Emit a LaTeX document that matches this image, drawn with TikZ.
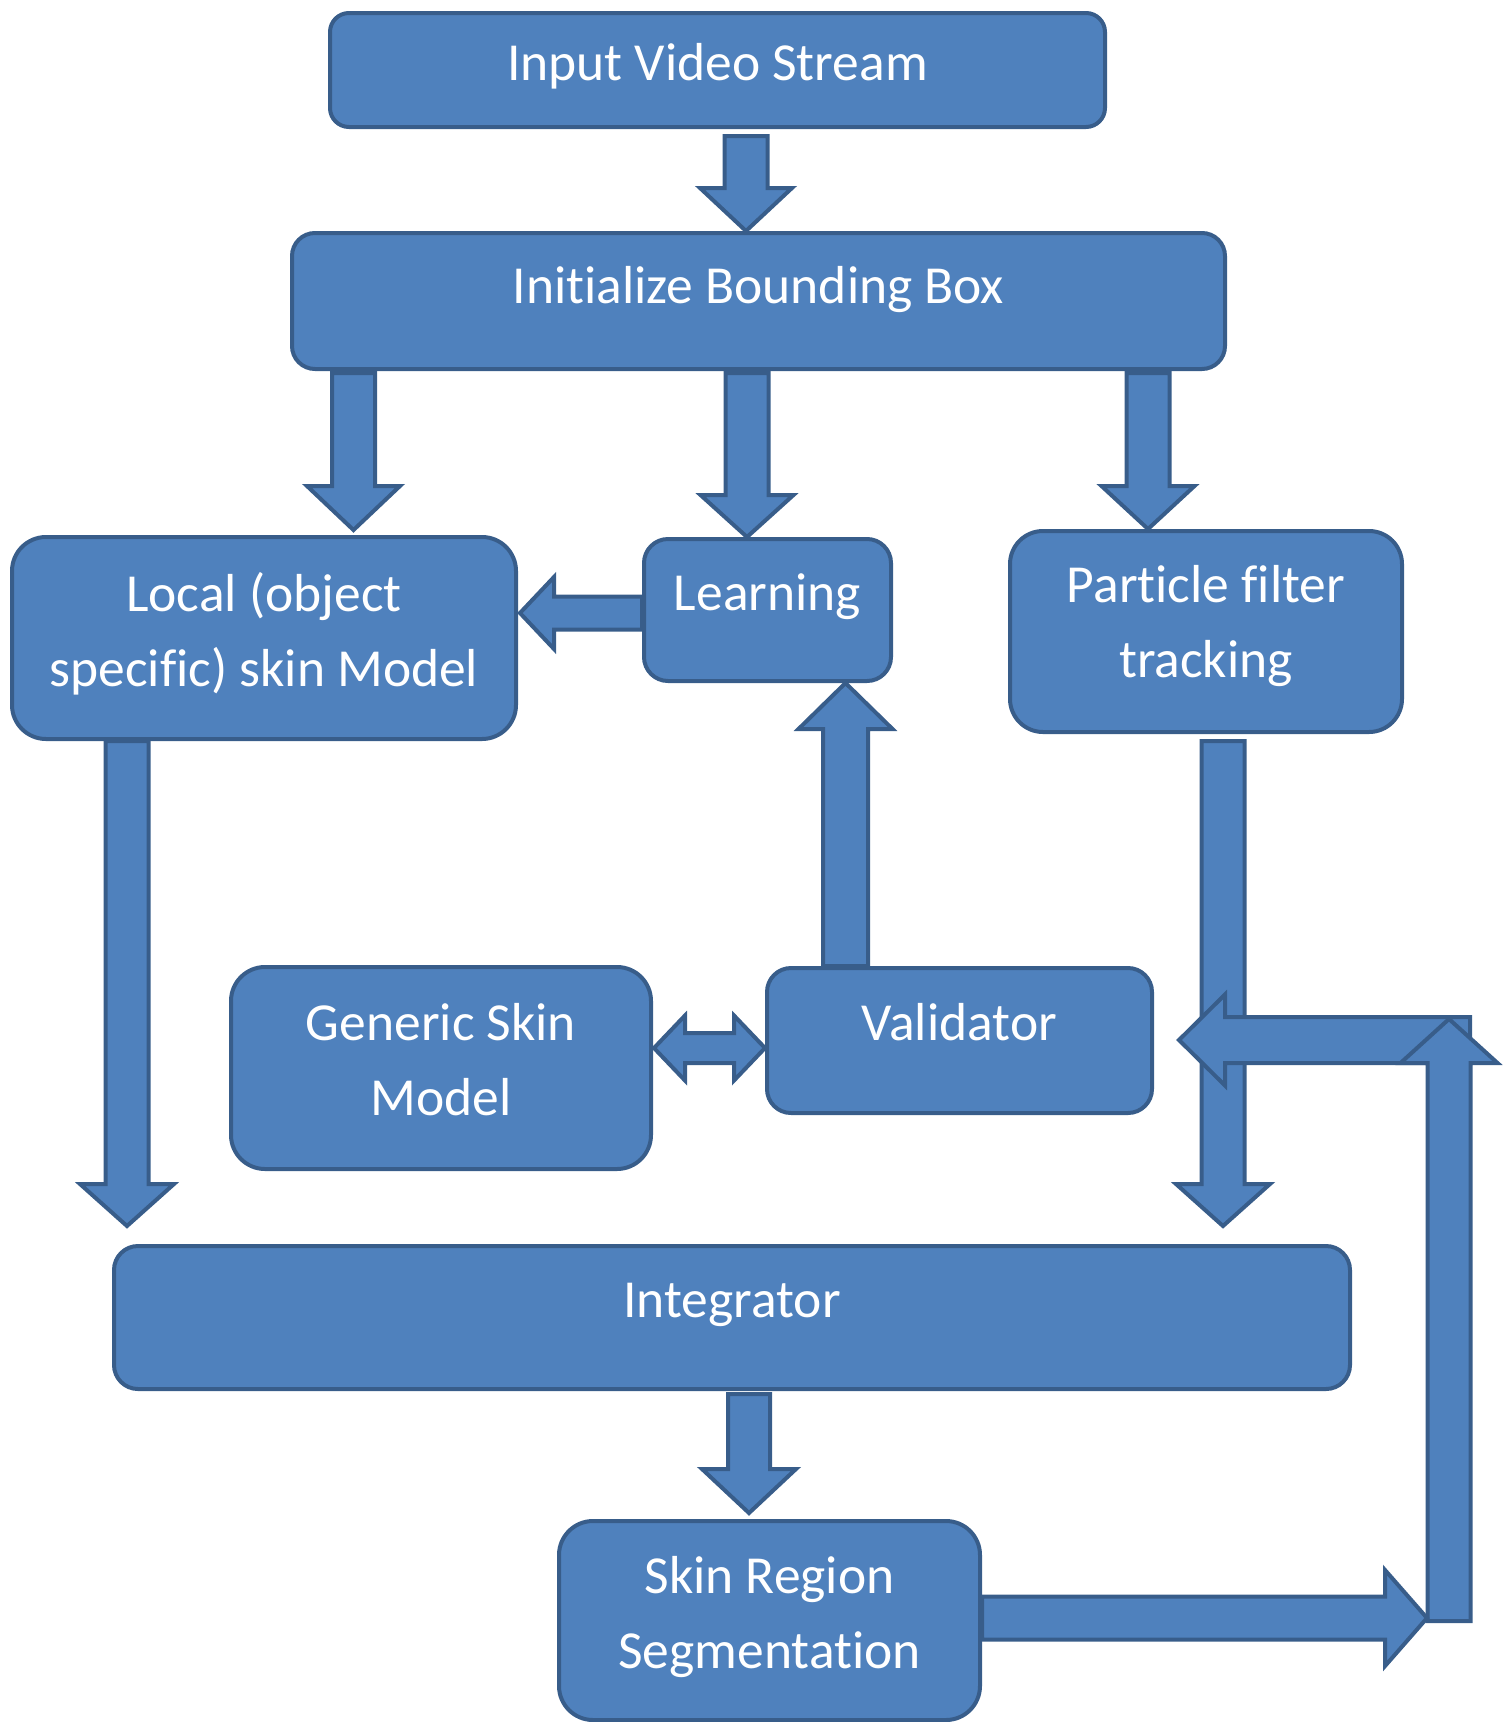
\documentclass[tikz,border=0pt]{standalone}
\usepackage{fontspec}
\setmainfont{Carlito}[Ligatures=CommonOff]
\usetikzlibrary{calc}
\definecolor{fillc}{HTML}{4F81BD}
\definecolor{bordc}{HTML}{385D8A}
\tikzset{
  box/.style={draw=bordc, fill=fillc, line width=4pt, rounded corners=#1, inner sep=0pt, rectangle},
  arr/.style={draw=bordc, fill=fillc, line width=4pt, line join=miter},
  txt/.style={text=white, font=\fontsize{53.5pt}{75pt}\selectfont, align=center, inner sep=0pt},
}
% vertical block arrow: start, tip, shaft half, head half, head length
\newcommand\varrow[5]{%
  \draw[arr] let \p1=#1, \p2=#2, \n1={sign(\y2-\y1)}, \n2={\y2-(\n1)*#5} in
    ({\x1-#3},\y1) -- ({\x1-#3},\n2) -- ({\x1-#4},\n2) -- (\x1,\y2)
    -- ({\x1+#4},\n2) -- ({\x1+#3},\n2) -- ({\x1+#3},\y1) -- cycle;}
% horizontal block arrow
\newcommand\harrow[5]{%
  \draw[arr] let \p1=#1, \p2=#2, \n1={sign(\x2-\x1)}, \n2={\x2-(\n1)*#5} in
    (\x1,{\y1-#3}) -- (\n2,{\y1-#3}) -- (\n2,{\y1-#4}) -- (\x2,\y1)
    -- (\n2,{\y1+#4}) -- (\n2,{\y1+#3}) -- (\x1,{\y1+#3}) -- cycle;}
% double-headed horizontal block arrow: left tip, right tip
\newcommand\dharrow[5]{%
  \draw[arr] let \p1=#1, \p2=#2, \n1={\x1+#5}, \n2={\x2-#5} in
    (\x1,\y1) -- (\n1,{\y1+#4}) -- (\n1,{\y1+#3}) -- (\n2,{\y1+#3}) -- (\n2,{\y1+#4})
    -- (\x2,\y1) -- (\n2,{\y1-#4}) -- (\n2,{\y1-#3}) -- (\n1,{\y1-#3}) -- (\n1,{\y1-#4}) -- cycle;}
\begin{document}
\begin{tikzpicture}[x=1pt,y=-1pt]
\useasboundingbox (0,0) rectangle (1504,1722);
% boxes
\node[box=19pt, minimum width=775pt, minimum height=114pt] (input) at (717.5,70) {};
\node[box=23pt, minimum width=933pt, minimum height=136pt] (init) at (758.5,301) {};
\node[box=34pt, minimum width=504pt, minimum height=202pt] (local) at (264,638) {};
\node[box=24pt, minimum width=247pt, minimum height=142pt] (learn) at (767.5,610) {};
\node[box=33pt, minimum width=392pt, minimum height=201pt] (part) at (1206,631.5) {};
\node[box=34pt, minimum width=420pt, minimum height=202pt] (gen) at (441,1068) {};
\node[box=24pt, minimum width=385pt, minimum height=145pt] (valid) at (959.5,1040.5) {};
\node[box=24pt, minimum width=1236pt, minimum height=143pt] (integ) at (732,1317.5) {};
\node[box=34pt, minimum width=421pt, minimum height=199pt] (skin) at (769.5,1620.5) {};
% guide coordinates
\coordinate (c1) at (746,0);
\coordinate (c2) at (353.5,0);
\coordinate (c3) at (747,0);
\coordinate (c4) at (1148,0);
\coordinate (c5) at (845.5,0);
\coordinate (c6) at (127,0);
\coordinate (c7) at (1223,0);
\coordinate (c8) at (749,0);
\coordinate (r1) at (0,613);
\coordinate (r2) at (0,1048);
\coordinate (r3) at (0,1040);
\coordinate (r5) at (0,1618);
\coordinate (loopR) at (1470,1040);
\coordinate (loopB) at (1449,1621);
\coordinate (loopT) at (1449,1019);
\coordinate (loopIn) at (1427,1618);
% arrows
\varrow{($(input.south -| c1)+(0,7)$)}{(init.north -| c1)}{21.5pt}{46pt}{43pt}
\varrow{($(init.south -| c2)+(0,2)$)}{($(local.north -| c2)+(0,-5)$)}{21.5pt}{46.5pt}{44pt}
\varrow{($(init.south -| c3)+(0,2)$)}{(learn.north -| c3)}{21.5pt}{46.5pt}{42pt}
\varrow{($(init.south -| c4)+(0,2)$)}{(part.north -| c4)}{21.5pt}{46.5pt}{43pt}
\harrow{(learn.west |- r1)}{($(local.east |- r1)+(2,0)$)}{16.5pt}{36pt}{34pt}
\varrow{(valid.north -| c5)}{(learn.south -| c5)}{22.5pt}{47pt}{46pt}
\varrow{(local.south -| c6)}{($(integ.north -| c6)+(0,-18)$)}{21.5pt}{47pt}{42pt}
\varrow{($(part.south -| c7)+(0,7)$)}{($(integ.north -| c7)+(0,-18)$)}{21.5pt}{47pt}{42pt}
\dharrow{($(gen.east |- r2)+(1,0)$)}{(valid.west |- r2)}{15pt}{32.5pt}{31pt}
\varrow{($(integ.south -| c8)+(0,3)$)}{($(skin.north -| c8)+(0,-6)$)}{21pt}{47pt}{44pt}
\harrow{(loopR)}{($(valid.east |- r3)+(25,0)$)}{23pt}{45.5pt}{46pt}
\varrow{(loopB)}{(loopT)}{21.5pt}{48.5pt}{44pt}
\harrow{(skin.east |- r5)}{(loopIn)}{21.5pt}{48pt}{42pt}
% texts (base anchor = baseline of the last line)
\node[txt, anchor=base] (t-input) at (717.5,80) {Input Video Stream};
\node[txt, anchor=base] (t-init) at (758.5,303) {Initialize Bounding Box};
\node[txt, anchor=base] (t-local) at (264,686) {Local (object\\specific) skin Model};
\node[txt, anchor=base] (t-learn) at (767.5,610) {Learning};
\node[txt, anchor=base] (t-part) at (1206,677) {Particle filter\\tracking};
\node[txt, anchor=base] (t-gen) at (441,1115) {Generic Skin\\Model};
\node[txt, anchor=base] (t-valid) at (959.5,1040) {Validator};
\node[txt, anchor=base] (t-integ) at (732,1317) {Integrator};
\node[txt, anchor=base] (t-skin) at (769.5,1668) {Skin Region\\Segmentation};
\end{tikzpicture}
\end{document}
